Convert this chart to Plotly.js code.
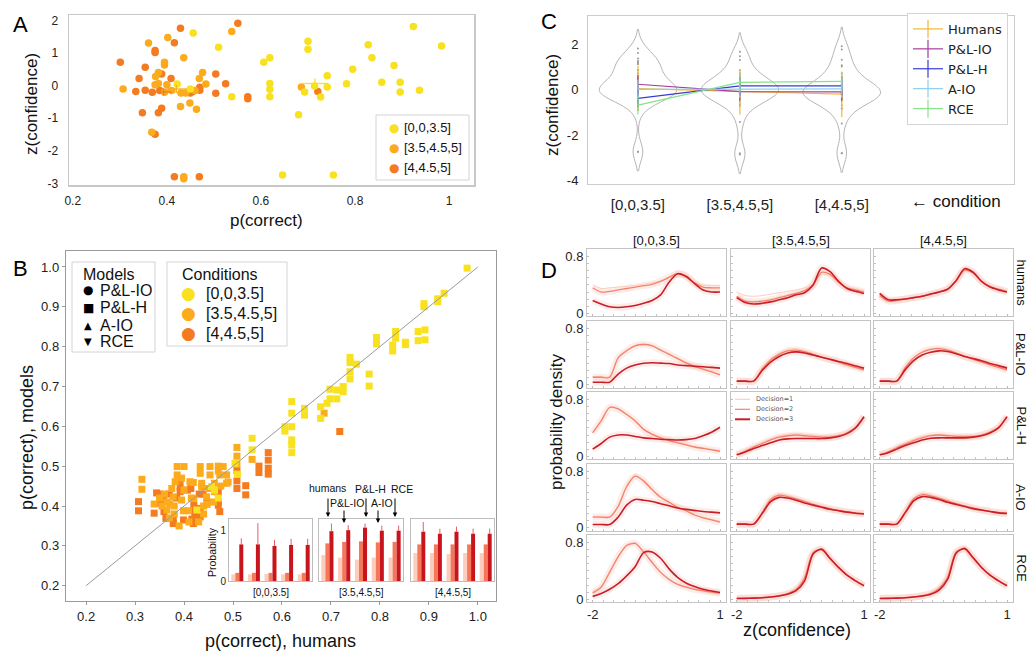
<!DOCTYPE html>
<html><head><meta charset="utf-8">
<script src="https://cdn.plot.ly/plotly-3.0.1.min.js"></script>
<style>html,body{margin:0;padding:0;background:#fff}#plot{width:1030px;height:652px}</style>
</head><body><div id="plot"></div>
<script>
const W = 1030, H = 652;
const px = v => v / W;
const py = v => 1 - v / H;
const FONT = 'Liberation Sans, Arial, Helvetica, sans-serif';

// ---------- shared categories ----------
const conditions = ['[0,0,3.5]', '[3.5,4.5,5]', '[4,4.5,5]'];
const condColors = ['#f8e11f', '#fcab1c', '#f47b20'];

// ---------- Panel A : p(correct) vs z(confidence) ----------
const aX_c1 = [0.422,0.456,0.510,0.538,0.606,0.619,0.619,0.619,0.619,0.700,0.700,0.693,0.714,0.727,0.741,0.741,0.680,0.782,0.795,0.828,0.836,0.857,0.883,0.896,0.896,0.924,0.937,0.984,0.646,0.754,0.450];
const aY_c1 = [0.05,1.62,1.18,-0.34,0.72,0.86,0.07,-0.11,-0.34,1.37,1.12,-0.19,-0.01,-0.35,0.31,-0.04,-0.89,0.06,0.51,1.26,0.86,0.11,0.62,0.11,-0.19,1.82,-0.14,1.22,-2.74,-2.74,-0.10];
const aX_c2 = [0.307,0.361,0.368,0.376,0.382,0.382,0.395,0.395,0.402,0.436,0.429,0.449,0.463,0.469,0.476,0.483,0.538,0.686,0.436,0.436,0.375,0.395,0.410,0.430,0.440,0.460,0.400];
const aY_c2 = [-0.10,1.31,-1.43,0.28,0.41,0.07,0.72,0.64,1.48,0.86,-0.64,-0.53,-0.72,0.22,0.41,0.05,1.67,-0.04,-2.80,-2.86,0.03,-0.20,-0.15,-0.22,-0.22,-0.15,0.03];
const aX_c3 = [0.301,0.334,0.341,0.348,0.354,0.354,0.375,0.375,0.375,0.389,0.382,0.389,0.409,0.416,0.429,0.470,0.470,0.504,0.504,0.525,0.551,0.572,0.572,0.416,0.469,0.721,0.369,0.385,0.450,0.455];
const aY_c3 = [0.72,-0.18,0.22,-0.83,0.57,-0.14,-1.49,1.08,1.02,0.36,-0.83,-0.69,0.22,1.32,1.77,-0.05,-0.14,0.36,-0.23,0.06,1.92,-0.34,-0.40,-2.80,-2.80,-0.18,-0.20,-0.15,-0.22,-0.18];
const aMeanX = [0.715, 0.420, 0.393];
const aMeanY = [0.07, -0.10, -0.19];
const aMeanErrX = [0.028, 0.023, 0.018];
const aMeanErrY = [0.15, 0.12, 0.11];
const aXTicks = [0.2, 0.4, 0.6, 0.8, 1];
const aXTickText = ['0.2', '0.4', '0.6', '0.8', '1'];
const aYTicks = [-3, -2, -1, 0, 1, 2];
const aYTickText = ['-3', '-2', '-1', '0', '1', '2'];

// ---------- Panel B : humans vs models ----------
const bX_c1 = [0.978,0.890,0.890,0.918,0.918,0.931,0.878,0.878,0.892,0.892,0.852,0.852,0.832,0.832,0.826,0.826,0.793,0.793,0.739,0.739,0.739,0.739,0.752,0.778,0.778,0.725,0.725,0.712,0.712,0.698,0.698,0.692,0.679,0.679,0.646,0.646,0.620,0.620,0.620,0.620,0.620,0.620,0.606,0.606,0.539,0.539,0.504,0.509,0.456,0.462,0.470,0.426];
const bY_c1 = [0.997,0.908,0.900,0.920,0.913,0.934,0.838,0.815,0.842,0.817,0.811,0.805,0.838,0.821,0.804,0.789,0.823,0.807,0.773,0.760,0.737,0.719,0.756,0.731,0.701,0.700,0.687,0.691,0.669,0.693,0.669,0.658,0.649,0.620,0.645,0.628,0.662,0.633,0.599,0.566,0.553,0.534,0.599,0.588,0.570,0.541,0.507,0.480,0.449,0.440,0.420,0.390];
const bX_c2 = [0.314,0.314,0.339,0.365,0.371,0.378,0.375,0.386,0.386,0.382,0.400,0.395,0.399,0.409,0.412,0.419,0.420,0.433,0.433,0.436,0.436,0.446,0.447,0.450,0.453,0.453,0.462,0.462,0.473,0.480,0.487,0.487,0.508,0.508,0.508,0.539,0.686,0.470,0.470,0.370,0.380,0.390,0.410,0.430,0.440,0.350,0.355,0.360,0.400,0.415,0.440,0.460,0.475,0.490,0.365,0.380,0.395];
const bY_c2 = [0.467,0.442,0.405,0.390,0.405,0.423,0.444,0.499,0.478,0.461,0.499,0.415,0.388,0.388,0.461,0.459,0.419,0.499,0.482,0.457,0.448,0.423,0.404,0.444,0.499,0.478,0.457,0.436,0.478,0.499,0.478,0.457,0.547,0.525,0.505,0.517,0.633,0.500,0.488,0.370,0.380,0.350,0.360,0.360,0.380,0.420,0.400,0.430,0.440,0.420,0.400,0.410,0.450,0.460,0.410,0.400,0.470];
const bX_c3 = [0.307,0.307,0.339,0.344,0.350,0.358,0.351,0.359,0.363,0.378,0.378,0.392,0.392,0.392,0.399,0.407,0.414,0.416,0.419,0.422,0.422,0.420,0.431,0.439,0.433,0.433,0.447,0.470,0.470,0.470,0.473,0.508,0.508,0.508,0.526,0.526,0.553,0.553,0.572,0.572,0.572,0.572,0.718,0.370,0.385];
const bY_c3 = [0.411,0.388,0.382,0.433,0.430,0.415,0.407,0.386,0.369,0.356,0.365,0.465,0.448,0.436,0.365,0.440,0.444,0.367,0.356,0.386,0.372,0.402,0.430,0.430,0.394,0.373,0.410,0.434,0.411,0.402,0.386,0.489,0.463,0.444,0.451,0.428,0.500,0.484,0.534,0.515,0.495,0.480,0.587,0.430,0.420];
const identityLine = [0.2, 1.0];
const bTicks = [0.2,0.3,0.4,0.5,0.6,0.7,0.8,0.9,1.0];
const bTickText = ['0.2','0.3','0.4','0.5','0.6','0.7','0.8','0.9','1.0'];
const modelNames = ['P&L-IO', 'P&L-H', 'A-IO', 'RCE'];
const modelGlyphs = ['\u25CF', '\u25A0', '\u25B2', '\u25BC'];

// ---------- Panel B inset : decision probabilities ----------
const insetGroups = ['humans', 'P&L-IO', 'P&L-H', 'A-IO', 'RCE'];
const bar_c1_d1 = [0.13,0.13,0.14,0.13,0.13];
const bar_c1_d2 = [0.16,0.16,0.16,0.16,0.16];
const bar_c1_d3 = [0.72,0.72,0.69,0.71,0.71];
const bar_c1_err = [0.12,0.42,0.12,0.12,0.12];
const bar_c2_d1 = [0.51,0.46,0.42,0.46,0.46];
const bar_c2_d2 = [0.74,0.77,0.78,0.76,0.77];
const bar_c2_d3 = [0.98,1.00,1.05,0.99,0.99];
const bar_c2_err = [0.15,0.10,0.08,0.10,0.10];
const bar_c3_d1 = [0.55,0.55,0.53,0.55,0.55];
const bar_c3_d2 = [0.72,0.72,0.72,0.72,0.72];
const bar_c3_d3 = [0.97,0.93,0.97,0.93,0.93];
const bar_c3_err = [0.19,0.10,0.10,0.10,0.10];
const decisionColors = ['#fbcdbd', '#f4775a', '#c8141c'];

// ---------- Panel C : z(confidence) by condition ----------
const cModels = ['Humans', 'P&L-IO', 'P&L-H', 'A-IO', 'RCE'];
const cHumans = [0.05, -0.09, -0.20];
const cHumansErr = [1.0, 1.0, 1.0];
const cPLIO = [0.24, -0.09, -0.10];
const cPLH = [-0.38, 0.17, 0.17];
const cAIO = [0.01, 0.03, 0.04];
const cRCE = [-0.68, 0.32, 0.37];
const cColors = ['#f5b82e', '#a43d9d', '#3a3ad8', '#8ad0ee', '#86e38a'];
const cYTicks = [-4, -2, 0, 2];
const cYTickText = ['-4', '-2', '0', '2'];

// ---------- Panel D : probability density of z(confidence) ----------
const zGrid = [-2,-1.8,-1.6,-1.4,-1.2,-1,-0.8,-0.6,-0.4,-0.2,0,0.2,0.4,0.6,0.8,1];
const rowNames = ['humans', 'P&L-IO', 'P&L-H', 'A-IO', 'RCE'];
const decisionNames = ['Decision=1', 'Decision=2', 'Decision=3'];

const hum_c1_d1 = [0.40,0.35,0.36,0.37,0.38,0.39,0.41,0.43,0.46,0.50,0.53,0.50,0.44,0.40,0.39,0.39];
const hum_c1_d2 = [0.36,0.30,0.31,0.33,0.35,0.37,0.39,0.41,0.45,0.51,0.56,0.53,0.43,0.37,0.36,0.36];
const hum_c1_d3 = [0.18,0.13,0.09,0.08,0.09,0.11,0.14,0.18,0.26,0.44,0.56,0.52,0.42,0.33,0.30,0.30];
const hum_c2_d1 = [0.30,0.25,0.24,0.25,0.27,0.29,0.31,0.33,0.36,0.42,0.55,0.53,0.44,0.37,0.34,0.32];
const hum_c2_d2 = [0.24,0.17,0.16,0.17,0.19,0.22,0.25,0.28,0.32,0.40,0.58,0.55,0.44,0.36,0.33,0.30];
const hum_c2_d3 = [0.22,0.15,0.13,0.14,0.16,0.19,0.22,0.26,0.29,0.40,0.64,0.59,0.45,0.35,0.31,0.28];
const hum_c3_d1 = [0.27,0.21,0.20,0.21,0.23,0.25,0.28,0.31,0.35,0.45,0.60,0.57,0.45,0.38,0.34,0.31];
const hum_c3_d2 = [0.25,0.17,0.18,0.20,0.22,0.24,0.27,0.30,0.34,0.46,0.61,0.57,0.45,0.38,0.34,0.31];
const hum_c3_d3 = [0.28,0.19,0.19,0.20,0.22,0.24,0.27,0.30,0.34,0.46,0.63,0.58,0.45,0.37,0.33,0.30];

const plio_c1_d1 = [0.115,0.115,0.115,0.39,0.49,0.56,0.58,0.56,0.50,0.44,0.38,0.32,0.27,0.23,0.19,0.15];
const plio_c1_d2 = [0.105,0.105,0.105,0.38,0.48,0.55,0.57,0.55,0.49,0.43,0.37,0.31,0.26,0.22,0.18,0.14];
const plio_c1_d3 = [0.035,0.035,0.035,0.15,0.235,0.28,0.305,0.31,0.305,0.30,0.28,0.27,0.26,0.255,0.245,0.235];
const plio_c2_d1 = [0.05,0.05,0.05,0.24,0.37,0.45,0.50,0.51,0.48,0.44,0.40,0.355,0.31,0.27,0.235,0.20];
const plio_c2_d2 = [0.05,0.05,0.05,0.22,0.35,0.43,0.48,0.49,0.47,0.43,0.39,0.355,0.32,0.28,0.245,0.21];
const plio_c2_d3 = [0.05,0.05,0.05,0.20,0.32,0.40,0.45,0.465,0.45,0.42,0.39,0.36,0.33,0.30,0.265,0.235];
const plio_c3_d1 = [0.05,0.05,0.05,0.25,0.39,0.47,0.51,0.52,0.50,0.45,0.41,0.36,0.32,0.28,0.24,0.20];
const plio_c3_d2 = [0.05,0.05,0.05,0.24,0.38,0.46,0.50,0.51,0.49,0.45,0.40,0.36,0.32,0.28,0.245,0.21];
const plio_c3_d3 = [0.05,0.05,0.05,0.21,0.34,0.42,0.46,0.48,0.47,0.44,0.40,0.37,0.34,0.30,0.27,0.235];

const plh_c1_d1 = [0.34,0.51,0.70,0.68,0.60,0.51,0.39,0.32,0.27,0.23,0.20,0.17,0.14,0.12,0.10,0.08];
const plh_c1_d2 = [0.33,0.50,0.69,0.67,0.59,0.50,0.38,0.31,0.26,0.22,0.19,0.16,0.13,0.11,0.09,0.07];
const plh_c1_d3 = [0.10,0.18,0.27,0.30,0.30,0.28,0.26,0.25,0.24,0.235,0.23,0.235,0.25,0.29,0.34,0.41];
const plh_c2_d1 = [0.02,0.08,0.14,0.20,0.25,0.29,0.31,0.32,0.31,0.30,0.29,0.29,0.30,0.34,0.42,0.56];
const plh_c2_d2 = [0.02,0.07,0.13,0.18,0.23,0.27,0.29,0.30,0.29,0.28,0.27,0.27,0.29,0.33,0.41,0.56];
const plh_c2_d3 = [0.02,0.06,0.11,0.15,0.19,0.23,0.245,0.25,0.25,0.25,0.25,0.26,0.28,0.32,0.40,0.56];
const plh_c3_d1 = [0.02,0.07,0.13,0.19,0.24,0.28,0.30,0.31,0.30,0.29,0.29,0.29,0.31,0.35,0.42,0.56];
const plh_c3_d2 = [0.02,0.06,0.12,0.17,0.22,0.26,0.29,0.30,0.29,0.28,0.28,0.28,0.30,0.34,0.41,0.56];
const plh_c3_d3 = [0.02,0.05,0.10,0.15,0.19,0.23,0.255,0.26,0.26,0.26,0.26,0.27,0.29,0.33,0.40,0.56];

const aio_c1_d1 = [0.16,0.16,0.16,0.32,0.60,0.75,0.68,0.55,0.44,0.37,0.30,0.25,0.19,0.15,0.12,0.09];
const aio_c1_d2 = [0.15,0.15,0.15,0.30,0.58,0.73,0.66,0.54,0.43,0.36,0.29,0.24,0.18,0.14,0.11,0.08];
const aio_c1_d3 = [0.045,0.045,0.045,0.15,0.32,0.40,0.39,0.37,0.34,0.31,0.28,0.26,0.245,0.23,0.22,0.21];
const aio_c2_d1 = [0.05,0.05,0.05,0.22,0.42,0.48,0.46,0.42,0.38,0.34,0.30,0.27,0.25,0.23,0.21,0.20];
const aio_c2_d2 = [0.05,0.05,0.05,0.21,0.40,0.46,0.44,0.41,0.37,0.33,0.30,0.27,0.245,0.225,0.21,0.20];
const aio_c2_d3 = [0.05,0.05,0.05,0.20,0.37,0.43,0.42,0.39,0.35,0.32,0.29,0.26,0.24,0.22,0.205,0.195];
const aio_c3_d1 = [0.05,0.05,0.05,0.23,0.42,0.49,0.47,0.43,0.39,0.35,0.31,0.28,0.26,0.235,0.22,0.21];
const aio_c3_d2 = [0.05,0.05,0.05,0.22,0.41,0.47,0.45,0.42,0.38,0.34,0.31,0.28,0.25,0.23,0.215,0.205];
const aio_c3_d3 = [0.05,0.05,0.05,0.21,0.38,0.44,0.43,0.40,0.36,0.33,0.30,0.27,0.25,0.23,0.21,0.20];

const rce_c1_d1 = [0.11,0.19,0.40,0.61,0.77,0.80,0.68,0.53,0.39,0.29,0.22,0.18,0.15,0.12,0.10,0.09];
const rce_c1_d2 = [0.09,0.17,0.38,0.60,0.76,0.79,0.67,0.52,0.38,0.28,0.21,0.17,0.14,0.12,0.10,0.085];
const rce_c1_d3 = [0.04,0.08,0.14,0.22,0.33,0.46,0.66,0.67,0.58,0.43,0.31,0.23,0.18,0.14,0.115,0.095];
const rce_c2_d1 = [0.01,0.013,0.018,0.025,0.036,0.055,0.09,0.16,0.33,0.67,0.69,0.57,0.44,0.34,0.26,0.19];
const rce_c2_d2 = [0.01,0.012,0.016,0.022,0.032,0.05,0.08,0.14,0.30,0.66,0.70,0.57,0.45,0.34,0.26,0.19];
const rce_c2_d3 = [0.01,0.012,0.015,0.02,0.03,0.045,0.07,0.12,0.26,0.64,0.71,0.58,0.45,0.34,0.26,0.19];
const rce_c3_d1 = [0.01,0.013,0.018,0.025,0.036,0.055,0.09,0.17,0.34,0.68,0.70,0.58,0.45,0.34,0.26,0.19];
const rce_c3_d2 = [0.01,0.012,0.016,0.022,0.032,0.05,0.08,0.15,0.31,0.67,0.71,0.58,0.45,0.34,0.26,0.19];
const rce_c3_d3 = [0.01,0.012,0.015,0.02,0.03,0.045,0.07,0.13,0.28,0.65,0.72,0.59,0.45,0.34,0.26,0.19];

const densityTable = [
  [[hum_c1_d1,hum_c1_d2,hum_c1_d3],[hum_c2_d1,hum_c2_d2,hum_c2_d3],[hum_c3_d1,hum_c3_d2,hum_c3_d3]],
  [[plio_c1_d1,plio_c1_d2,plio_c1_d3],[plio_c2_d1,plio_c2_d2,plio_c2_d3],[plio_c3_d1,plio_c3_d2,plio_c3_d3]],
  [[plh_c1_d1,plh_c1_d2,plh_c1_d3],[plh_c2_d1,plh_c2_d2,plh_c2_d3],[plh_c3_d1,plh_c3_d2,plh_c3_d3]],
  [[aio_c1_d1,aio_c1_d2,aio_c1_d3],[aio_c2_d1,aio_c2_d2,aio_c2_d3],[aio_c3_d1,aio_c3_d2,aio_c3_d3]],
  [[rce_c1_d1,rce_c1_d2,rce_c1_d3],[rce_c2_d1,rce_c2_d2,rce_c2_d3],[rce_c3_d1,rce_c3_d2,rce_c3_d3]]
];
const dLineColors = ['#fbcdbd', '#f4826a', '#c81e2a'];
const dLineWidths = [1, 1.3, 1.6];

// ================= build =================
const traces = [];
const layout = {
  width: W, height: H, margin: {l: 0, r: 0, t: 0, b: 0},
  paper_bgcolor: '#fff', plot_bgcolor: '#fff',
  font: {family: FONT, color: '#222', size: 12},
  showlegend: true, barmode: 'group', bargap: 0.28, bargroupgap: 0, violinmode: 'overlay',
  shapes: [], annotations: []
};
function frameAxis(extra) {
  return Object.assign({showline: true, mirror: true, linecolor: '#c8c8c8', linewidth: 1,
    showgrid: false, zeroline: false, ticks: '', fixedrange: true}, extra);
}
function txt(x, y, text, size, extra) {
  return Object.assign({xref: 'paper', yref: 'paper', x: px(x), y: py(y), text: text, showarrow: false,
    font: {size: size, family: FONT, color: '#111'}, xanchor: 'center', yanchor: 'middle'}, extra || {});
}
function box(x0, y0, x1, y1) {
  return {type: 'rect', xref: 'paper', yref: 'paper', x0: px(x0), x1: px(x1), y0: py(y1), y1: py(y0),
    line: {color: '#d4d4d4', width: 1}, fillcolor: '#fff', layer: 'above'};
}

// ----- Panel A -----
const aXs = [aX_c1, aX_c2, aX_c3], aYs = [aY_c1, aY_c2, aY_c3];
[2, 1, 0].forEach(i => {
  traces.push({type: 'scatter', mode: 'markers', x: aXs[i], y: aYs[i], xaxis: 'x', yaxis: 'y',
    marker: {color: condColors[i], size: 7.5}, showlegend: false, hoverinfo: 'skip'});
});
[0, 1, 2].forEach(i => {
  traces.push({type: 'scatter', mode: 'markers', x: [aMeanX[i]], y: [aMeanY[i]], xaxis: 'x', yaxis: 'y',
    marker: {size: 1, color: condColors[i], opacity: 0},
    error_x: {type: 'data', array: [aMeanErrX[i]], color: condColors[i], thickness: 1.3, width: 0},
    error_y: {type: 'data', array: [aMeanErrY[i]], color: condColors[i], thickness: 1.3, width: 0},
    showlegend: false, hoverinfo: 'skip'});
});
layout.xaxis = frameAxis({domain: [px(69), px(474)], range: [0.192, 1.053], anchor: 'y', linewidth: 1.5,
  tickvals: aXTicks, ticktext: aXTickText, ticks: 'outside', ticklen: 4, tickcolor: 'rgba(0,0,0,0)', tickfont: {size: 12}});
layout.yaxis = frameAxis({domain: [py(185), py(15)], range: [-3.051, 2.174], anchor: 'x', linewidth: 1.5,
  tickvals: aYTicks, ticktext: aYTickText, ticks: 'outside', ticklen: 7, tickcolor: 'rgba(0,0,0,0)', tickfont: {size: 12}});
layout.shapes.push(box(376, 115, 469, 180));
conditions.forEach((c, i) => {
  layout.annotations.push(txt(394, 127.7 + 20 * i, '\u25CF', 12, {font: {size: 12, color: condColors[i], family: 'DejaVu Sans'}}));
  layout.annotations.push(txt(402, 127.7 + 20 * i, c, 13, {xanchor: 'left'}));
});
layout.annotations.push(txt(32, 104, 'z(confidence)', 17, {textangle: -90}));
layout.annotations.push(txt(266, 220, 'p(correct)', 17));

// ----- Panel B -----
const bXs = [bX_c1, bX_c2, bX_c3], bYs = [bY_c1, bY_c2, bY_c3];
[2, 1, 0].forEach(i => {
  traces.push({type: 'scatter', mode: 'markers', x: bXs[i], y: bYs[i], xaxis: 'x2', yaxis: 'y2',
    marker: {color: condColors[i], size: 7, symbol: 'square'}, showlegend: false, hoverinfo: 'skip'});
});
traces.push({type: 'scatter', mode: 'lines', x: identityLine, y: identityLine, xaxis: 'x2', yaxis: 'y2',
  line: {color: '#9a9a9a', width: 1}, showlegend: false, hoverinfo: 'skip'});
layout.xaxis2 = frameAxis({domain: [px(66), px(496)], range: [0.159, 1.037], anchor: 'y2', linecolor: '#9a9a9a', linewidth: 1.2,
  tickvals: bTicks, ticktext: bTickText, ticks: 'outside', ticklen: 3, tickcolor: '#9a9a9a', tickfont: {size: 13}});
layout.yaxis2 = frameAxis({domain: [py(601), py(251)], range: [0.1616, 1.040], anchor: 'x2', linecolor: '#9a9a9a', linewidth: 1.2,
  tickvals: bTicks, ticktext: bTickText, ticks: 'outside', ticklen: 3, tickcolor: '#9a9a9a', tickfont: {size: 13}});
layout.annotations.push(txt(27, 438, 'p(correct), models', 18, {textangle: -90}));
layout.annotations.push(txt(280, 641, 'p(correct), humans', 18));
// legends of B
layout.shapes.push(box(72, 262, 155, 352));
layout.annotations.push(txt(109, 274, 'Models', 16));
const modelY = [290, 307.5, 325, 341.5];
modelNames.forEach((m, i) => {
  layout.annotations.push(txt(88, modelY[i], modelGlyphs[i], i < 2 ? 12 : 10, {font: {size: i < 2 ? 12 : 10, color: '#000', family: 'DejaVu Sans'}}));
  layout.annotations.push(txt(98, modelY[i], m, 16, {xanchor: 'left'}));
});
layout.shapes.push(box(167, 262, 287, 346));
layout.annotations.push(txt(220, 274, 'Conditions', 16));
conditions.forEach((c, i) => {
  layout.annotations.push(txt(188, 293.3 + 20 * i, '\u25CF', 17, {font: {size: 17, color: condColors[i], family: 'DejaVu Sans'}}));
  layout.annotations.push(txt(204, 293.3 + 20 * i, c, 16, {xanchor: 'left'}));
});

// ----- Panel B insets -----
const insetL = [229, 319, 411], insetR = [312, 403, 494];
const insetBars = [[bar_c1_d1, bar_c1_d2, bar_c1_d3], [bar_c2_d1, bar_c2_d2, bar_c2_d3], [bar_c3_d1, bar_c3_d2, bar_c3_d3]];
const insetErr = [bar_c1_err, bar_c2_err, bar_c3_err];
insetBars.forEach((set, k) => {
  const n = 3 + k;
  set.forEach((vals, d) => {
    const t = {type: 'bar', x: insetGroups, y: vals, xaxis: 'x' + n, yaxis: 'y' + n,
      marker: {color: decisionColors[d], line: {width: 0}}, showlegend: false, hoverinfo: 'skip'};
    if (d === 2) t.error_y = {type: 'data', array: insetErr[k], symmetric: false, color: '#e0363c', thickness: 0.8, width: 0};
    traces.push(t);
  });
  layout['xaxis' + n] = frameAxis({domain: [px(insetL[k]), px(insetR[k])], type: 'category', range: [-0.5, 4.5],
    anchor: 'y' + n, showticklabels: false, linecolor: '#bdbdbd'});
  layout['yaxis' + n] = frameAxis({domain: [py(581), py(519)], range: [0, 1.22], anchor: 'x' + n,
    showticklabels: k === 0, tickvals: [0, 1], ticktext: ['0', '1'], tickfont: {size: 10}, linecolor: '#bdbdbd'});
  layout.annotations.push(txt((insetL[k] + insetR[k]) / 2, 592, conditions[k], 10));
});
layout.annotations.push(txt(212, 552, 'Probability', 10.5, {textangle: -90}));
const arrowX = [328, 344, 366, 378, 395];
const arrowHeadY = [517, 523, 517, 523, 517];
const arrowTailY = [497, 509, 497, 509, 497];
const labelPos = [[327, 488], [347, 503], [370, 489], [382, 503], [402, 489]];
insetGroups.forEach((g, i) => {
  layout.annotations.push(txt(labelPos[i][0], labelPos[i][1], g, 10.5));
  layout.annotations.push({xref: 'paper', yref: 'paper', x: px(arrowX[i]), y: py(arrowHeadY[i]), ax: 0,
    ay: arrowTailY[i] - arrowHeadY[i], text: '', showarrow: true, arrowhead: 2, arrowsize: 0.9, arrowwidth: 1,
    arrowcolor: '#000', standoff: 0, startstandoff: 0});
});

// ----- Panel C -----
const aYbyCond = [aY_c1, aY_c2, aY_c3];
conditions.forEach((c, i) => {
  traces.push({type: 'violin', x: aYbyCond[i].map(() => c), y: aYbyCond[i], xaxis: 'x6', yaxis: 'y6',
    line: {color: '#b5b5b5', width: 1}, fillcolor: 'rgba(255,255,255,0)', points: 'all', jitter: 0, pointpos: 0,
    marker: {size: 2, color: '#999'}, bandwidth: 0.42, spanmode: 'soft', width: 0.76, scalemode: 'width',
    box: {visible: false}, meanline: {visible: false}, showlegend: false, hoverinfo: 'skip'});
});
const cVals = [cHumans, cPLIO, cPLH, cAIO, cRCE];
cModels.forEach((m, i) => {
  const t = {type: 'scatter', mode: 'lines+markers', x: conditions, y: cVals[i], xaxis: 'x6', yaxis: 'y6', name: m,
    line: {color: cColors[i], width: 1.2},
    marker: {symbol: 'line-ns-open', size: 13, color: cColors[i], line: {color: cColors[i], width: 1.2}},
    hoverinfo: 'skip'};
  if (i === 0) t.error_y = {type: 'data', array: cHumansErr, color: cColors[0], thickness: 1.2, width: 0};
  traces.push(t);
});
layout.xaxis6 = frameAxis({domain: [px(588), px(1014)], type: 'category', categoryorder: 'array', categoryarray: conditions,
  range: [-0.49, 3.69], anchor: 'y6', tickfont: {size: 15}, ticks: 'outside', ticklen: 7, tickcolor: 'rgba(0,0,0,0)', linecolor: '#cccccc'});
layout.yaxis6 = frameAxis({domain: [py(184), py(16)], range: [-4.16, 3.25], anchor: 'x6', tickvals: cYTicks, ticktext: cYTickText,
  tickfont: {size: 13}, ticks: 'outside', ticklen: 6, tickcolor: 'rgba(0,0,0,0)', linecolor: '#cccccc'});
layout.legend = {x: px(907), y: py(13), xanchor: 'left', yanchor: 'top', bgcolor: '#fff', bordercolor: '#d4d4d4',
  borderwidth: 1, font: {size: 13, family: 'DejaVu Sans, sans-serif', color: '#222'}, tracegroupgap: 0};
layout.annotations.push(txt(553, 105, 'z(confidence)', 17, {textangle: -90}));
layout.annotations.push(txt(956, 201, '\u2190 condition', 17));

// ----- Panel D -----
const dTops = [249, 320.5, 392, 463.5, 535], dH = 67;
const dLefts = [587, 731, 874], dW = 139;
densityTable.forEach((row, r) => {
  row.forEach((curves, c) => {
    const n = 7 + r * 3 + c;
    [1, 2].forEach(d => {
      traces.push({type: 'scatter', mode: 'lines', x: zGrid, y: curves[d], xaxis: 'x' + n, yaxis: 'y' + n,
        line: {color: 'rgba(244,140,125,0.16)', width: 7, shape: 'spline', smoothing: 0.8}, showlegend: false, hoverinfo: 'skip'});
    });
    [0, 1, 2].forEach(d => {
      traces.push({type: 'scatter', mode: 'lines', x: zGrid, y: curves[d], xaxis: 'x' + n, yaxis: 'y' + n,
        line: {color: dLineColors[d], width: dLineWidths[d], shape: 'spline', smoothing: 0.8}, showlegend: false, hoverinfo: 'skip'});
    });
    layout['xaxis' + n] = frameAxis({domain: [px(dLefts[c]), px(dLefts[c] + dW)], range: [-2.134, 1.141], anchor: 'y' + n,
      tickvals: [-2, 1], ticktext: ['-2', '1'], showticklabels: r === 4, tickfont: {size: 13}, ticks: 'inside', ticklen: 2,
      tickcolor: '#bbb', linecolor: '#c4c4c4',
      minor: {tickmode: 'linear', tick0: -2, dtick: 0.25, ticks: 'inside', ticklen: 2, tickcolor: '#c4c4c4', showgrid: false}});
    layout['yaxis' + n] = frameAxis({domain: [py(dTops[r] + dH), py(dTops[r])], range: [-0.04, 0.91], anchor: 'x' + n,
      tickvals: [0, 0.8], ticktext: ['0', '0.8'], showticklabels: c === 0, tickfont: {size: 13}, ticks: 'inside', ticklen: 2,
      tickcolor: '#bbb', linecolor: '#c4c4c4',
      minor: {tickmode: 'linear', tick0: 0, dtick: 0.1, ticks: 'inside', ticklen: 2, tickcolor: '#c4c4c4', showgrid: false}});
  });
  layout.annotations.push(txt(1021, dTops[r] + dH / 2, rowNames[r], 13, {textangle: 90}));
});
conditions.forEach((c, i) => layout.annotations.push(txt(dLefts[i] + dW / 2, 241, c, 13)));
layout.annotations.push(txt(556, 422, 'probability density', 17, {textangle: -90}));
layout.annotations.push(txt(797, 630, 'z(confidence)', 18));
// D legend
decisionNames.forEach((nm, d) => {
  const yy = 399.3 + 10 * d;
  layout.shapes.push({type: 'line', xref: 'paper', yref: 'paper', x0: px(735), x1: px(750), y0: py(yy), y1: py(yy),
    line: {color: dLineColors[d], width: d === 2 ? 2 : 1.2}, layer: 'above'});
  layout.annotations.push(txt(754, yy, nm, 6.5, {xanchor: 'left', font: {size: 6.5, family: 'DejaVu Sans', color: '#555'}}));
});

// ----- panel letters -----
[['A', 20, 24], ['B', 20, 268], ['C', 549, 21], ['D', 549, 270]].forEach(l => {
  layout.annotations.push(txt(l[1], l[2], l[0], 22, {font: {size: 22, family: FONT, color: '#000'}}));
});

Plotly.newPlot('plot', traces, layout, {displayModeBar: false, staticPlot: true});
</script>
</body></html>
